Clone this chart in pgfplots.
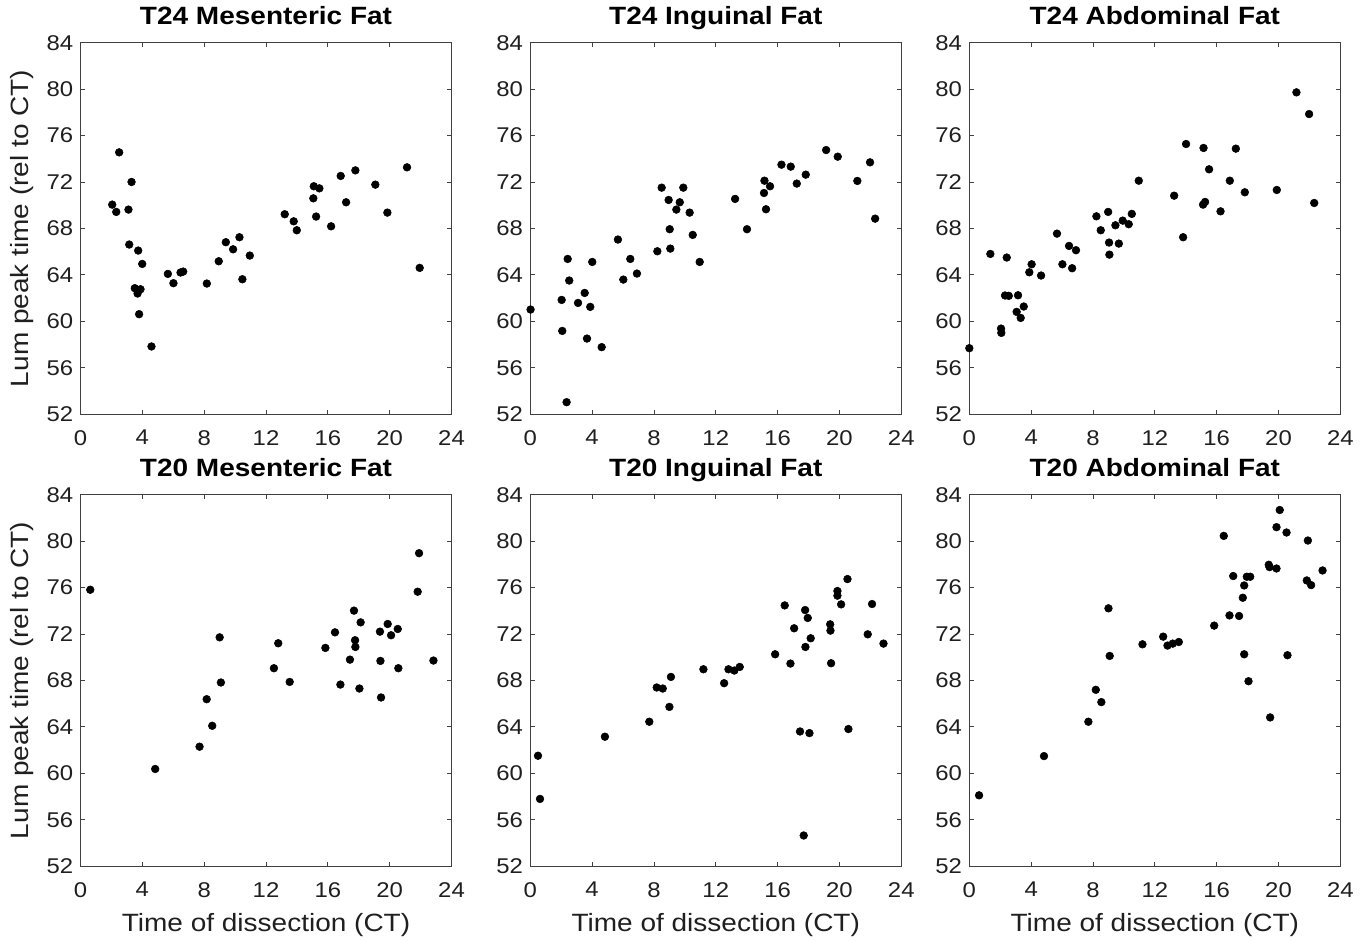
\documentclass[border=0pt]{standalone}
\usepackage{fontspec}
\setmainfont{Liberation Sans}[FakeStretch=1.12]
\usepackage{pgfplots}
\pgfplotsset{compat=1.18}
\definecolor{axgray}{rgb}{0.25,0.25,0.25}
\definecolor{txt}{rgb}{0.12,0.12,0.12}
\pgfplotsset{
  panel/.style={
    scale only axis, width=278.25pt, height=278.6pt,
    anchor=north west,
    xmin=0, xmax=24, ymin=52, ymax=84,
    xtick={0,4,...,24}, ytick={52,56,...,84},
    tick align=inside, major tick length=3.2pt,
    axis line style={draw=axgray, line width=0.7pt},
    every tick/.style={axgray, line width=0.6pt},
    /pgf/number format/assume math mode=true,
    tick label style={font=\fontsize{16}{19}\selectfont, text=txt},
    xticklabel style={yshift=-8.5pt},
    yticklabel style={xshift=-2pt},
    title style={font=\fontsize{18.75}{22}\selectfont\bfseries, at={(axis description cs:0.5,1)}, anchor=base, yshift=7.5pt},
    label style={font=\fontsize{18.75}{22}\selectfont, text=txt},
    xlabel style={at={(axis description cs:0.5,-0.159)}, anchor=center},
    ylabel style={at={(axis description cs:-0.158,0.5)}, anchor=center},
    clip=false,
  },
  dots/.style={only marks, mark=*, mark size=2.9pt, mark options={draw=black, fill=black}},
}
\begin{document}
\begin{tikzpicture}
\useasboundingbox (0,0) rectangle (1028.25pt,-706.5pt);
% ---------- top row ----------
\begin{axis}[panel, at={(60.4pt,-32pt)}, title={T24 Mesenteric Fat}, ylabel={Lum peak time (rel to CT)}]
\addplot[dots] coordinates {
(2.05,70.05) (2.31,69.42) (2.50,74.55) (3.30,72.00) (3.10,69.62) (3.15,66.61) (3.73,66.09) (3.99,64.94) (3.51,62.85) (3.88,62.76) (3.69,62.39) (3.79,60.61) (4.59,57.83) (5.65,64.08) (6.01,63.28) (6.47,64.20) (6.64,64.28) (8.17,63.25) (8.94,65.17) (9.40,66.81) (9.87,66.20) (10.28,67.24) (10.47,63.62) (10.95,65.66) (13.21,69.22) (13.79,68.61) (13.99,67.84) (15.09,71.63) (15.45,71.45) (15.06,70.59) (15.24,69.02) (16.21,68.18) (16.83,72.52) (17.18,70.25) (17.78,73.00) (19.07,71.77) (19.85,69.36) (21.12,73.26) (21.94,64.60)
};
\end{axis}
\begin{axis}[panel, at={(397.7pt,-32pt)}, title={T24 Inguinal Fat}]
\addplot[dots] coordinates {
(0.02,61.01) (2.03,61.84) (2.07,59.17) (2.35,53.03) (2.42,65.37) (2.52,63.51) (3.09,61.58) (3.52,62.44) (3.88,61.24) (3.67,58.51) (4.01,65.11) (4.62,57.77) (5.67,67.04) (6.02,63.59) (6.47,65.37) (6.90,64.11) (8.22,66.03) (8.50,71.51) (8.95,70.45) (9.02,67.93) (9.06,66.26) (9.45,69.62) (9.67,70.25) (9.90,71.51) (10.31,69.36) (10.51,67.44) (10.96,65.11) (13.25,70.54) (14.02,67.93) (15.15,72.11) (15.12,71.05) (15.51,71.63) (15.25,69.65) (16.25,73.49) (16.85,73.32) (17.24,71.86) (17.82,72.63) (19.14,74.75) (19.89,74.18) (21.16,72.09) (21.98,73.69) (22.31,68.84)
};
\end{axis}
\begin{axis}[panel, at={(727pt,-32pt)}, title={T24 Abdominal Fat}]
\addplot[dots] coordinates {
(0.00,57.68) (1.36,65.80) (2.42,65.49) (2.05,59.37) (2.07,59.00) (2.31,62.22) (2.55,62.19) (3.15,62.24) (3.06,60.81) (3.52,61.27) (3.32,60.29) (3.88,64.22) (4.03,64.91) (4.64,63.94) (5.67,67.55) (6.02,64.91) (6.45,66.49) (6.65,64.57) (6.90,66.12) (8.22,69.04) (8.50,67.84) (8.98,69.42) (9.04,66.78) (9.06,65.74) (9.45,68.27) (9.67,66.69) (9.92,68.67) (10.31,68.36) (10.51,69.25) (10.96,72.11) (13.25,70.82) (13.83,67.24) (14.02,75.27) (15.15,74.93) (15.12,70.05) (15.25,70.28) (15.51,73.09) (16.25,69.47) (16.85,72.11) (17.24,74.87) (17.82,71.11) (19.89,71.31) (21.16,79.72) (21.98,77.85) (22.31,70.19)
};
\end{axis}
% ---------- bottom row ----------
\begin{axis}[panel, at={(60.4pt,-371pt)}, title={T20 Mesenteric Fat}, ylabel={Lum peak time (rel to CT)}, xlabel={Time of dissection (CT)}]
\addplot[dots] coordinates {
(0.63,75.81) (4.83,60.37) (7.70,62.29) (8.16,66.38) (8.52,64.09) (9.00,71.71) (9.08,67.82) (12.51,69.05) (12.79,71.20) (13.53,67.87) (15.84,70.80) (16.46,72.14) (16.81,67.64) (17.43,69.79) (17.69,74.01) (17.76,71.46) (17.78,70.88) (18.04,67.30) (18.12,73.00) (19.37,72.20) (19.40,69.68) (19.44,66.53) (19.87,72.86) (20.09,71.89) (20.52,72.43) (20.56,69.05) (21.81,75.64) (21.90,78.96) (22.83,69.71)
};
\end{axis}
\begin{axis}[panel, at={(397.7pt,-371pt)}, title={T20 Inguinal Fat}, xlabel={Time of dissection (CT)}]
\addplot[dots] coordinates {
(0.50,61.51) (0.63,57.79) (4.83,63.15) (7.70,64.44) (8.18,67.39) (8.57,67.30) (9.00,65.72) (9.10,68.30) (11.20,68.96) (12.54,67.76) (12.82,68.96) (13.20,68.85) (13.55,69.16) (15.84,70.25) (16.46,74.46) (16.83,69.45) (17.07,72.49) (17.45,63.60) (17.78,74.06) (17.95,73.38) (17.80,70.88) (18.06,63.46) (18.14,71.63) (17.69,54.64) (19.40,72.83) (19.42,72.29) (19.46,69.48) (19.87,75.70) (19.87,75.30) (20.11,74.55) (20.52,76.73) (20.58,63.81) (21.83,71.97) (22.11,74.58) (22.85,71.17)
};
\end{axis}
\begin{axis}[panel, at={(727pt,-371pt)}, title={T20 Abdominal Fat}, xlabel={Time of dissection (CT)}]
\addplot[dots] coordinates {
(0.63,58.10) (4.83,61.48) (7.70,64.44) (8.18,67.19) (8.54,66.13) (9.00,74.21) (9.08,70.11) (11.20,71.11) (12.54,71.77) (12.82,71.00) (13.16,71.17) (13.55,71.31) (15.84,72.72) (16.46,80.45) (16.83,73.60) (17.07,76.99) (17.45,73.55) (17.69,75.12) (17.78,76.18) (17.95,76.93) (18.17,76.93) (17.78,70.25) (18.06,67.93) (19.37,77.96) (19.42,77.76) (19.46,64.81) (19.87,77.64) (19.87,81.20) (20.08,82.68) (20.52,80.74) (20.58,70.17) (21.90,80.05) (21.83,76.61) (22.11,76.21) (22.85,77.47)
};
\end{axis}
\end{tikzpicture}
\end{document}
